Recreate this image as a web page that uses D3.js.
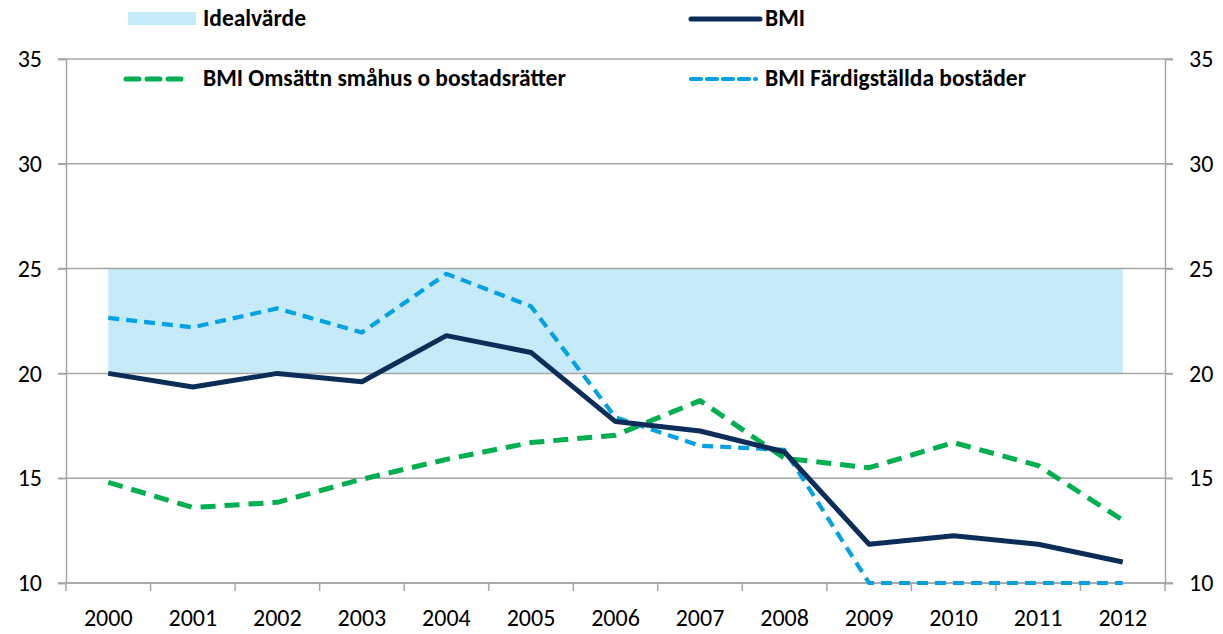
<!DOCTYPE html>
<html>
<head>
<meta charset="utf-8">
<script src="https://cdn.jsdelivr.net/npm/d3@7"></script>
<style>
  body { margin: 0; background: #fff; }
  svg text { font-family: Carlito, "Open Sans", "Liberation Sans", sans-serif; }
</style>
</head>
<body>
<svg id="chart" width="1223" height="634"></svg>
<script>
// --- Data ---
const years = ["2000","2001","2002","2003","2004","2005","2006","2007","2008","2009","2010","2011","2012"];
const bmi = [20.0, 19.35, 20.0, 19.6, 21.8, 21.0, 17.7, 17.25, 16.25, 11.85, 12.25, 11.85, 11.0];
const bmiOmsattn = [14.8, 13.6, 13.85, 14.95, 15.9, 16.7, 17.05, 18.7, 15.95, 15.5, 16.7, 15.6, 13.0];
const bmiFardig = [22.65, 22.2, 23.1, 21.95, 24.75, 23.2, 17.9, 16.55, 16.35, 10, 10, 10, 10];
const idealRange = [20, 25];
const yTicks = [10, 15, 20, 25, 30, 35];

// --- Set up ---
const svg = d3.select("#chart");
const margin = { top: 59, right: 58, bottom: 51, left: 66 };
const width = +svg.attr("width");
const height = +svg.attr("height");

const x = d3.scaleBand().domain(years).range([margin.left, width - margin.right]);
const cx = d => x(d) + x.bandwidth() / 2;
const y = d3.scaleLinear().domain([10, 35]).range([height - margin.bottom, margin.top]);

const gridColor = "#a6a6a6";
const font = 'Carlito, "Open Sans", "Liberation Sans", sans-serif';

// Ideal band
svg.append("rect")
  .attr("x", cx(years[0]))
  .attr("width", cx(years[years.length - 1]) - cx(years[0]))
  .attr("y", y(idealRange[1]))
  .attr("height", y(idealRange[0]) - y(idealRange[1]))
  .attr("fill", "#c7eaf9");

// Gridlines (with outer tick marks)
svg.append("g").selectAll("line")
  .data(yTicks)
  .join("line")
  .attr("x1", margin.left - 8)
  .attr("x2", width - margin.right + 8)
  .attr("y1", d => y(d))
  .attr("y2", d => y(d))
  .attr("stroke", gridColor)
  .attr("stroke-width", 1.5);

// Axes
const leftAxis = svg.append("g")
  .attr("transform", `translate(${margin.left},0)`)
  .call(d3.axisLeft(y).tickValues(yTicks).tickSize(8).tickPadding(16));
const rightAxis = svg.append("g")
  .attr("transform", `translate(${width - margin.right},0)`)
  .call(d3.axisRight(y).tickValues(yTicks).tickSize(8).tickPadding(16));
const bottomAxis = svg.append("g")
  .attr("transform", `translate(0,${y(10)})`)
  .call(d3.axisBottom(x).tickSize(0).tickPadding(26));

// boundary ticks for the category axis
const bounds = years.map(d => x(d)).concat([x(years[years.length - 1]) + x.bandwidth()]);
bottomAxis.selectAll(".bound")
  .data(bounds)
  .join("line")
  .attr("class", "bound")
  .attr("x1", d => d).attr("x2", d => d)
  .attr("y1", 0).attr("y2", 8)
  .attr("stroke", gridColor).attr("stroke-width", 1.5);

[leftAxis, rightAxis, bottomAxis].forEach(g => {
  g.selectAll(".domain").attr("stroke", gridColor).attr("stroke-width", 1.5);
  g.selectAll(".tick line").attr("stroke", gridColor).attr("stroke-width", 1.5);
  g.selectAll("text").attr("font-size", 24).attr("fill", "#000").style("font-family", font);
});
bottomAxis.select(".domain").attr("d", `M${margin.left},0H${width - margin.right}`);

// --- Lines ---
const line = d3.line().x((d, i) => cx(years[i])).y(d => y(d));

const series = [
  { name: "BMI Omsättn småhus o bostadsrätter", values: bmiOmsattn, color: "#00b050", width: 5, dash: "15 9" },
  { name: "BMI Färdigställda bostäder", values: bmiFardig, color: "#00a2e3", width: 4.2, dash: "11 7" },
  { name: "BMI", values: bmi, color: "#0b2d57", width: 5, dash: null }
];

svg.selectAll(".series")
  .data(series)
  .join("path")
  .attr("class", "series")
  .attr("fill", "none")
  .attr("stroke", d => d.color)
  .attr("stroke-width", d => d.width)
  .attr("stroke-dasharray", d => d.dash)
  .attr("stroke-linejoin", "round")
  .attr("d", d => line(d.values));

// --- Legend ---
const legend = svg.append("g").attr("font-size", 23.5).attr("font-weight", "bold");

legend.append("rect")
  .attr("x", 128).attr("y", 12).attr("width", 68).attr("height", 13)
  .attr("fill", "#c7eaf9");
legend.append("text").attr("x", 203).attr("y", 26).text("Idealvärde");

legend.append("line")
  .attr("x1", 691).attr("x2", 760).attr("y1", 19).attr("y2", 19)
  .attr("stroke", "#0b2d57").attr("stroke-width", 5).attr("stroke-linecap", "round");
legend.append("text").attr("x", 765).attr("y", 26).text("BMI");

legend.append("line")
  .attr("x1", 126).attr("x2", 186).attr("y1", 79).attr("y2", 79)
  .attr("stroke", "#00b050").attr("stroke-width", 5).attr("stroke-dasharray", "13 8")
  .attr("stroke-linecap", "round");
legend.append("text").attr("x", 203).attr("y", 86).text("BMI Omsättn småhus o bostadsrätter");

legend.append("line")
  .attr("x1", 691).attr("x2", 756).attr("y1", 79).attr("y2", 79)
  .attr("stroke", "#00a2e3").attr("stroke-width", 4.2).attr("stroke-dasharray", "10 6")
  .attr("stroke-linecap", "round");
legend.append("text").attr("x", 765).attr("y", 86).text("BMI Färdigställda bostäder");
</script>
</body>
</html>
